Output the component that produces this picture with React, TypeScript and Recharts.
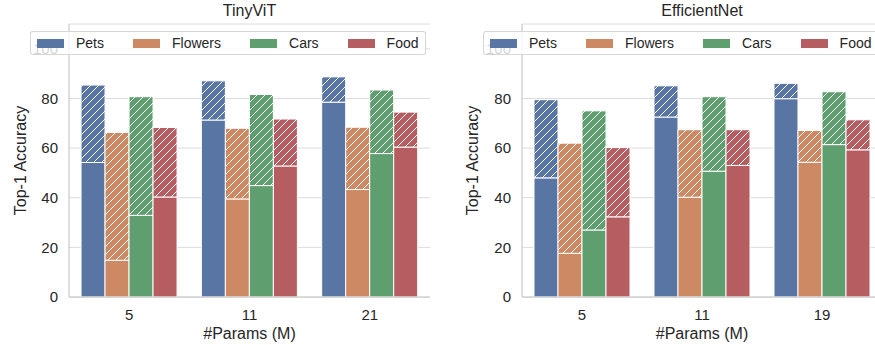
import { Bar, BarChart, CartesianGrid, XAxis, YAxis } from "recharts";

const seriesNames = ["Pets", "Flowers", "Cars", "Food"];
const seriesColors = ["#5975A4", "#CC8963", "#5F9E6E", "#B55D60"];
const yTicks = [0, 20, 40, 60, 80, 100];

// TinyViT: solid part = base accuracy, hatched part reaches the top value
const tinyParams = ["5", "11", "21"];
const tinyPetsBase = [54.2, 71.3, 78.5];
const tinyPetsTop = [85.4, 87.1, 88.7];
const tinyFlowersBase = [14.8, 39.5, 43.3];
const tinyFlowersTop = [66.3, 68.0, 68.4];
const tinyCarsBase = [32.9, 44.9, 57.8];
const tinyCarsTop = [80.7, 81.6, 83.4];
const tinyFoodBase = [40.3, 52.8, 60.4];
const tinyFoodTop = [68.3, 71.7, 74.5];

// EfficientNet
const effParams = ["5", "11", "19"];
const effPetsBase = [48.0, 72.5, 79.9];
const effPetsTop = [79.5, 85.1, 86.1];
const effFlowersBase = [17.6, 40.2, 54.3];
const effFlowersTop = [62.0, 67.4, 67.1];
const effCarsBase = [27.0, 50.7, 61.4];
const effCarsTop = [75.0, 80.7, 82.7];
const effFoodBase = [32.3, 53.0, 59.3];
const effFoodTop = [60.2, 67.4, 71.4];

const font = "'Liberation Sans', Arial, sans-serif";
const textColor = "#262626";
const spine = "#cccccc";

type PanelProps = {
  title: string;
  params: string[];
  bases: number[][];
  tops: number[][];
  prefix: string;
  left: number;
  width: number;
  yAxisWidth: number;
  labelOffset: number;
  marginRight: number;
  legendLeft: number;
};

const Panel = ({
  title,
  params,
  bases,
  tops,
  prefix,
  left,
  width,
  yAxisWidth,
  labelOffset,
  marginRight,
  legendLeft
}: PanelProps) => {
  const rows = params.map((p, i) => {
    const row: Record<string, number | string> = { param: p };
    seriesNames.forEach((s, k) => {
      row[`${s}_base`] = bases[k][i];
      row[`${s}_gain`] = +(tops[k][i] - bases[k][i]).toFixed(2);
    });
    return row;
  });
  const plotLeft = yAxisWidth;
  const plotRight = width - marginRight;

  return (
    <div style={{ position: "absolute", left, top: 0, width, height: 345 }}>
      <div
        style={{
          position: "absolute",
          left: plotLeft,
          width: plotRight - plotLeft,
          top: 2,
          textAlign: "center",
          fontFamily: font,
          fontSize: 16,
          color: textColor
        }}
      >
        {title}
      </div>
      <BarChart
        width={width}
        height={345}
        data={rows}
        margin={{ top: 24, right: marginRight, bottom: 0, left: 0 }}
        barCategoryGap="10%"
        barGap={0}
      >
        <defs>
          {seriesColors.map((c, k) => (
            <pattern
              key={k}
              id={`${prefix}-hatch-${k}`}
              patternUnits="userSpaceOnUse"
              width={8}
              height={8}
            >
              <rect width={8} height={8} fill={c} />
              <path
                d="M-2,2 l4,-4 M0,8 l8,-8 M6,10 l4,-4"
                stroke="#ffffff"
                strokeWidth={1}
              />
            </pattern>
          ))}
        </defs>
        <CartesianGrid vertical={false} stroke="#dcdcdc" strokeWidth={1} />
        <XAxis
          dataKey="param"
          height={48}
          tickLine={false}
          tickSize={0}
          tickMargin={12}
          axisLine={{ stroke: spine, strokeWidth: 1.25 }}
          tick={{ fill: textColor, fontSize: 15, fontFamily: font }}
          label={{
            value: "#Params (M)",
            position: "insideBottom",
            offset: 6,
            fill: textColor,
            fontSize: 16,
            fontFamily: font
          }}
        />
        <XAxis
          xAxisId="top"
          dataKey="param"
          orientation="top"
          height={0}
          tick={false}
          tickLine={false}
          axisLine={{ stroke: spine, strokeWidth: 1.25 }}
        />
        <YAxis
          width={yAxisWidth}
          domain={[0, 110]}
          ticks={yTicks}
          tickLine={false}
          tickSize={0}
          tickMargin={11}
          axisLine={{ stroke: spine, strokeWidth: 1.25 }}
          tick={{ fill: textColor, fontSize: 15, fontFamily: font }}
          label={{
            value: "Top-1 Accuracy",
            angle: -90,
            position: "insideLeft",
            offset: labelOffset,
            fill: textColor,
            fontSize: 16,
            fontFamily: font,
            style: { textAnchor: "middle" }
          }}
        />
        <YAxis
          yAxisId="right"
          orientation="right"
          width={0}
          domain={[0, 110]}
          tick={false}
          tickLine={false}
          axisLine={{ stroke: spine, strokeWidth: 1.25 }}
        />
        {seriesNames.flatMap((s, k) => [
          <Bar
            key={`${s}-base`}
            dataKey={`${s}_base`}
            stackId={s}
            fill={seriesColors[k]}
            stroke="#ffffff"
            strokeWidth={1}
            isAnimationActive={false}
          />,
          <Bar
            key={`${s}-gain`}
            dataKey={`${s}_gain`}
            stackId={s}
            fill={`url(#${prefix}-hatch-${k})`}
            stroke="#ffffff"
            strokeWidth={1}
            isAnimationActive={false}
          />
        ])}
      </BarChart>
      <div
        style={{
          position: "absolute",
          left: legendLeft,
          top: 31,
          height: 22,
          display: "flex",
          alignItems: "center",
          gap: 29,
          padding: "0 6px",
          background: "rgba(255,255,255,0.8)",
          border: "1px solid rgba(204,204,204,0.8)",
          borderRadius: 3,
          fontFamily: font,
          fontSize: 14,
          color: textColor,
          whiteSpace: "nowrap"
        }}
      >
        {seriesNames.map((s, k) => (
          <div key={s} style={{ display: "flex", alignItems: "center", gap: 12 }}>
            <div style={{ width: 27, height: 9, background: seriesColors[k] }} />
            <span>{s}</span>
          </div>
        ))}
      </div>
    </div>
  );
};

export default function App() {
  return (
    <div
      style={{
        position: "fixed",
        left: 0,
        top: 0,
        width: 875,
        height: 345,
        overflow: "hidden",
        background: "#ffffff"
      }}
    >
      <Panel
        title="TinyViT"
        params={tinyParams}
        bases={[tinyPetsBase, tinyFlowersBase, tinyCarsBase, tinyFoodBase]}
        tops={[tinyPetsTop, tinyFlowersTop, tinyCarsTop, tinyFoodTop]}
        prefix="tiny"
        left={0}
        width={440}
        yAxisWidth={69}
        labelOffset={20}
        marginRight={10}
        legendLeft={30}
      />
      <Panel
        title="EfficientNet"
        params={effParams}
        bases={[effPetsBase, effFlowersBase, effCarsBase, effFoodBase]}
        tops={[effPetsTop, effFlowersTop, effCarsTop, effFoodTop]}
        prefix="eff"
        left={440}
        width={450}
        yAxisWidth={82}
        labelOffset={32}
        marginRight={8}
        legendLeft={43}
      />
    </div>
  );
}
